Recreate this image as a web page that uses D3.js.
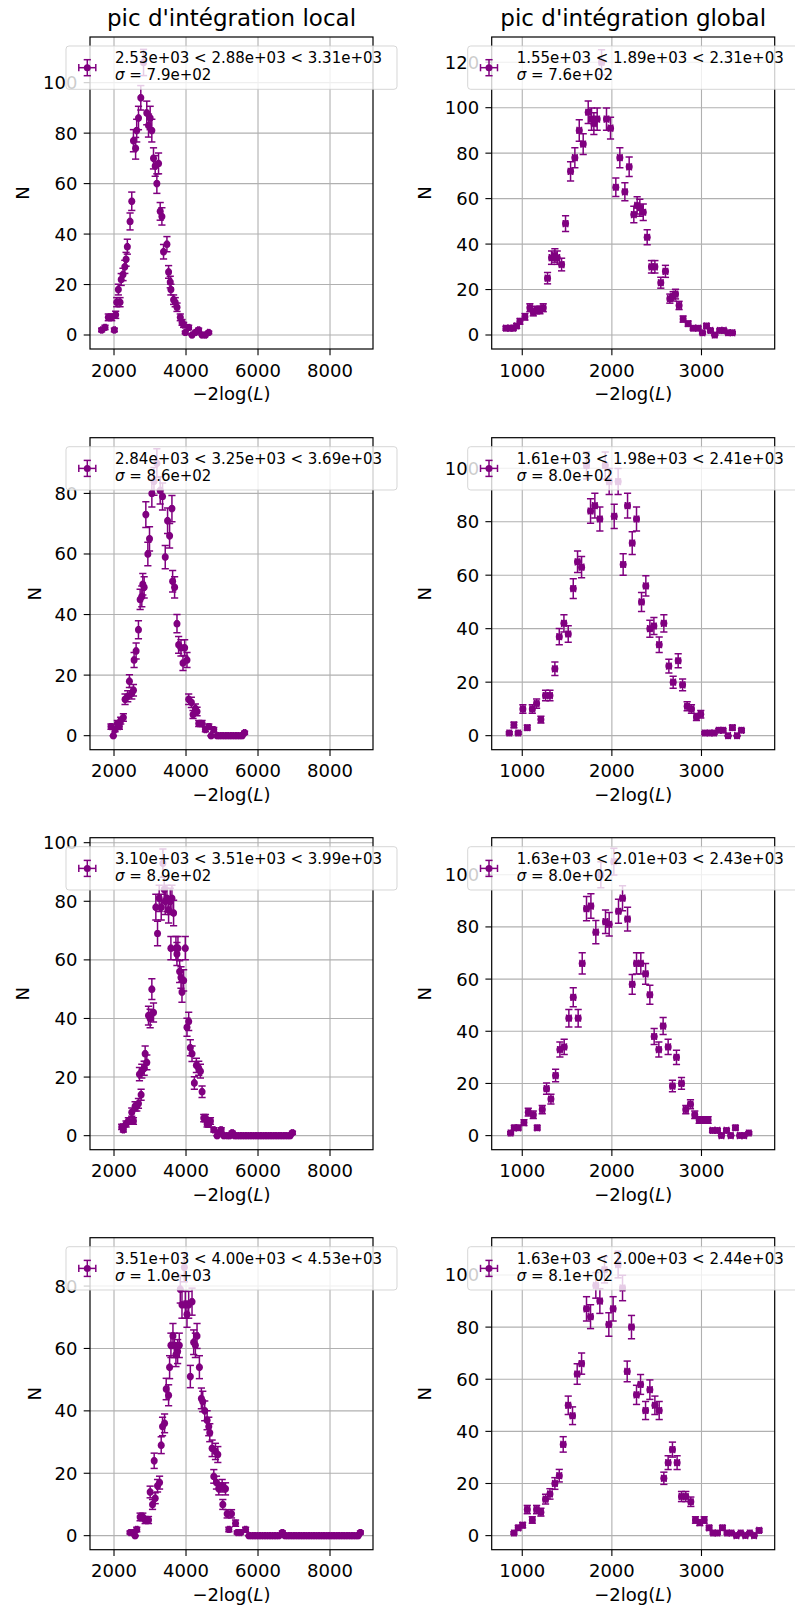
<!DOCTYPE html>
<html><head><meta charset="utf-8">
<script src="https://cdn.jsdelivr.net/npm/d3@7"></script>
<style>body{margin:0;background:#fff} svg{display:block;font-family:"DejaVu Sans",sans-serif}</style>
</head><body><svg id="c" width="795" height="1610"></svg>
<script>
// ---------------- DATA ----------------
const colTitles = ["pic d'intégration local", "pic d'intégration global"];
const xTicksLocal = [2000, 4000, 6000, 8000];
const xTicksGlobal = [1000, 2000, 3000];
const xLimLocal = [1333, 9194];
const xLimGlobal = [659, 3817];
const xErrLocal = 25;
const xErrGlobal = 25;

// [ -2log(L), N ]
const local1 = [[1656,2],[1750,3],[1842,7],[1935,7],[2009,2],[2046,8],[2075,13],[2120,18],[2167,13],[2200,22],[2250,24],[2300,27],[2335,30],[2370,35],[2446,45],[2493,53],[2540,77],[2600,74],[2630,81],[2680,86],[2744,94],[2820,108],[2910,88],[2958,83],[3004,86],[3050,81],[3097,70],[3144,67],[3190,60],[3237,68],[3283,49],[3330,47],[3376,33],[3470,36],[3516,25],[3562,21],[3580,18],[3655,14],[3700,13],[3750,11],[3841,7],[3890,5],[3934,4],[3980,1],[4073,3],[4166,0],[4260,1],[4350,2],[4446,0],[4540,0],[4630,1]];
const local2 = [[1916,3],[1981,0],[2028,2],[2093,4],[2149,3],[2186,5],[2260,6],[2307,12],[2381,13],[2428,18],[2493,14],[2540,15],[2558,25],[2614,28],[2679,35],[2726,45],[2772,46],[2800,50],[2837,49],[2884,73],[2940,60],[2986,65],[3051,80],[3110,84],[3190,90],[3283,81],[3348,79],[3423,59],[3488,71],[3544,66],[3609,75],[3628,51],[3683,49],[3749,37],[3795,30],[3860,29],[3916,24],[3962,29],[4027,25],[4074,12],[4148,11],[4195,7],[4260,9],[4306,8],[4353,4],[4446,4],[4539,2],[4632,3],[4697,0],[4770,2],[4864,0],[4930,0],[5000,0],[5070,0],[5140,0],[5210,0],[5280,0],[5350,0],[5420,0],[5490,0],[5560,0],[5627,1]];
const local3 = [[2214,3],[2260,2],[2335,4],[2400,5],[2493,8],[2540,5],[2586,10],[2632,10],[2679,11],[2707,21],[2753,14],[2772,22],[2837,23],[2865,28],[2911,25],[2958,41],[3004,40],[3051,50],[3097,42],[3162,78],[3209,69],[3255,81],[3311,78],[3358,93],[3395,84],[3423,80],[3470,81],[3516,77],[3562,80],[3609,81],[3655,76],[3580,64],[3720,64],[3748,62],[3776,64],[3823,56],[3860,54],[3888,49],[3934,53],[3980,64],[4027,37],[4074,39],[4120,30],[4167,28],[4232,18],[4288,24],[4353,23],[4400,22],[4446,15],[4493,6],[4540,6],[4586,4],[4632,4],[4679,5],[4772,2],[4865,0],[4911,1],[4976,2],[5050,0],[5143,0],[5213,0],[5283,1],[5350,0],[5420,0],[5490,0],[5560,0],[5630,0],[5700,0],[5770,0],[5840,0],[5910,0],[5980,0],[6050,0],[6120,0],[6190,0],[6260,0],[6330,0],[6400,0],[6470,0],[6540,0],[6610,0],[6680,0],[6750,0],[6820,0],[6890,0],[6957,1]];
const local4 = [[2446,1],[2540,1],[2586,0],[2632,2],[2725,6],[2800,6],[2865,5],[2958,5],[3004,14],[3070,10],[3116,24],[3144,12],[3209,16],[3265,17],[3311,29],[3348,35],[3404,36],[3450,47],[3516,45],[3544,54],[3581,61],[3637,64],[3674,61],[3720,58],[3767,59],[3813,61],[3841,79],[3888,74],[3953,86],[3980,74],[4027,71],[4074,74],[4120,51],[4167,75],[4213,62],[4260,61],[4306,64],[4372,54],[4427,44],[4465,43],[4520,40],[4586,37],[4632,35],[4660,33],[4725,28],[4772,19],[4818,27],[4846,17],[4883,26],[4911,15],[5004,16],[5022,10],[5097,15],[5143,7],[5190,2],[5264,7],[5376,4],[5422,1],[5515,1],[5655,2],[5748,0],[5820,0],[5887,0],[5950,0],[6020,0],[6090,0],[6160,0],[6230,0],[6300,0],[6370,0],[6440,0],[6510,0],[6580,0],[6677,1],[6750,0],[6820,0],[6890,0],[6960,0],[7030,0],[7100,0],[7170,0],[7240,0],[7310,0],[7380,0],[7450,0],[7520,0],[7590,0],[7660,0],[7730,0],[7800,0],[7870,0],[7940,0],[8010,0],[8080,0],[8150,0],[8220,0],[8290,0],[8360,0],[8430,0],[8500,0],[8570,0],[8640,0],[8710,0],[8780,0],[8845,1]];

const global1 = [[818,3],[862,3],[900,3],[937,4],[974,6],[1030,8],[1085,12],[1123,10],[1160,11],[1197,11],[1234,12],[1282,25],[1327,34],[1364,35],[1390,34],[1439,31],[1483,49],[1539,72],[1587,78],[1636,90],[1680,84],[1736,98],[1773,95],[1799,93],[1836,95],[1885,120],[1940,95],[1985,91],[2044,65],[2089,78],[2145,63],[2193,74],[2245,53],[2282,57],[2312,56],[2350,54],[2394,43],[2442,30],[2480,30],[2546,23],[2598,28],[2647,16],[2684,17],[2710,18],[2750,13],[2795,7],[2851,5],[2907,3],[2963,3],[3011,1],[3056,4],[3100,2],[3148,0],[3204,2],[3249,2],[3297,1],[3345,1]];
const global2 = [[855,1],[907,4],[955,1],[1007,10],[1056,3],[1112,10],[1160,12],[1208,6],[1260,15],[1309,15],[1364,25],[1413,37],[1465,42],[1513,38],[1569,55],[1617,65],[1662,63],[1717,101],[1762,84],[1810,86],[1866,81],[1926,101],[1970,95],[2026,82],[2070,95],[2126,64],[2175,86],[2227,72],[2275,81],[2331,50],[2379,56],[2424,40],[2469,41],[2528,34],[2580,42],[2636,26],[2684,20],[2740,28],[2789,19],[2840,11],[2888,10],[2944,7],[2992,8],[3037,1],[3093,1],[3141,1],[3193,2],[3241,2],[3297,0],[3345,3],[3397,0],[3446,2]];
const global3 = [[870,1],[911,3],[955,3],[1019,5],[1067,9],[1123,8],[1167,3],[1223,10],[1271,18],[1320,14],[1372,23],[1420,33],[1468,34],[1520,45],[1569,53],[1624,45],[1669,66],[1717,87],[1766,88],[1821,78],[1877,100],[1929,82],[1970,81],[2022,105],[2074,86],[2119,91],[2175,83],[2227,58],[2275,66],[2323,66],[2376,62],[2424,54],[2472,38],[2524,33],[2572,42],[2628,34],[2676,19],[2721,30],[2777,20],[2825,10],[2877,12],[2925,8],[2974,6],[3026,6],[3074,6],[3123,2],[3178,2],[3223,0],[3279,2],[3327,0],[3379,3],[3427,0],[3476,0],[3528,1]];
const global4 = [[907,1],[955,3],[1004,4],[1056,10],[1112,6],[1160,10],[1208,9],[1260,14],[1309,16],[1364,20],[1413,23],[1457,35],[1513,50],[1561,46],[1613,62],[1662,66],[1717,87],[1762,84],[1821,96],[1866,90],[1918,102],[1966,81],[2014,87],[2070,104],[2119,95],[2171,63],[2219,80],[2275,54],[2320,58],[2376,48],[2424,56],[2480,50],[2528,48],[2580,22],[2628,28],[2676,33],[2728,28],[2777,15],[2825,15],[2881,13],[2933,6],[2981,5],[3030,6],[3085,3],[3130,1],[3178,1],[3234,3],[3286,1],[3334,1],[3390,0],[3438,1],[3490,0],[3539,1],[3587,0],[3643,2]];

const localRanges = ["2.53e+03 < 2.88e+03 < 3.31e+03", "2.84e+03 < 3.25e+03 < 3.69e+03", "3.10e+03 < 3.51e+03 < 3.99e+03", "3.51e+03 < 4.00e+03 < 4.53e+03"];
const globalRanges = ["1.55e+03 < 1.89e+03 < 2.31e+03", "1.61e+03 < 1.98e+03 < 2.41e+03", "1.63e+03 < 2.01e+03 < 2.43e+03", "1.63e+03 < 2.00e+03 < 2.44e+03"];
const localSigmas = ["7.9e+02", "8.6e+02", "8.9e+02", "1.0e+03"];
const globalSigmas = ["7.6e+02", "8.0e+02", "8.0e+02", "8.1e+02"];
const localYLim = [[-5.55, 118.1], [-4.63, 98.4], [-4.79, 101.7], [-4.5, 95.5]];
const globalYLim = [[-6.16, 131.1], [-5.25, 111.4], [-5.4, 114.2], [-5.4, 114.3]];
const yTickStep = 20;

// ---------------- LAYOUT ----------------
const colLeft = [90, 491.7];
const axW = 283;
const rowTop = [37, 437.7, 837.7, 1237.7];
const axH = 312;
const purple = "#800080";
const tickFont = 18;

const svg = d3.select("#c");
const cols = [
  {series: [local1, local2, local3, local4], ranges: localRanges, sigmas: localSigmas, ylim: localYLim, xlim: xLimLocal, xticks: xTicksLocal, xerr: xErrLocal},
  {series: [global1, global2, global3, global4], ranges: globalRanges, sigmas: globalSigmas, ylim: globalYLim, xlim: xLimGlobal, xticks: xTicksGlobal, xerr: xErrGlobal}
];

const defs = svg.append("defs");
let clipId = 0;

cols.forEach((col, ci) => {
  const L = colLeft[ci];
  // title
  svg.append("text").attr("x", L + axW / 2).attr("y", 26).attr("text-anchor", "middle")
    .attr("font-size", 23).attr("fill", "#000").text(colTitles[ci]);

  col.series.forEach((data, ri) => {
    const T = rowTop[ri];
    const x = d3.scaleLinear().domain(col.xlim).range([L, L + axW]);
    const y = d3.scaleLinear().domain(col.ylim[ri]).range([T + axH, T]);
    const g = svg.append("g");
    const yticks = d3.range(0, col.ylim[ri][1], yTickStep);

    // grid
    g.append("g").selectAll("line").data(col.xticks).join("line")
      .attr("x1", d => x(d)).attr("x2", d => x(d)).attr("y1", T).attr("y2", T + axH)
      .attr("stroke", "#b0b0b0").attr("stroke-width", 1.1);
    g.append("g").selectAll("line").data(yticks).join("line")
      .attr("y1", d => y(d)).attr("y2", d => y(d)).attr("x1", L).attr("x2", L + axW)
      .attr("stroke", "#b0b0b0").attr("stroke-width", 1.1);

    // data with clip
    const cid = "clip" + (clipId++);
    defs.append("clipPath").attr("id", cid).append("rect")
      .attr("x", L).attr("y", T).attr("width", axW).attr("height", axH);
    const dg = g.append("g").attr("clip-path", `url(#${cid})`);
    const err = d => Math.sqrt(d[1]) / 2;
    const cap = 3.6;
    const bars = dg.append("g").attr("stroke", purple).attr("stroke-width", 1.5);
    data.forEach(d => {
      const cx = x(d[0]), cy = y(d[1]);
      const yt = y(d[1] + err(d)), yb = y(d[1] - err(d));
      const xl = x(d[0] - col.xerr), xr = x(d[0] + col.xerr);
      bars.append("line").attr("x1", cx).attr("x2", cx).attr("y1", yt).attr("y2", yb);
      bars.append("line").attr("x1", xl).attr("x2", xr).attr("y1", cy).attr("y2", cy);
      bars.append("line").attr("x1", cx - cap).attr("x2", cx + cap).attr("y1", yt).attr("y2", yt);
      bars.append("line").attr("x1", cx - cap).attr("x2", cx + cap).attr("y1", yb).attr("y2", yb);
      bars.append("line").attr("x1", xl).attr("x2", xl).attr("y1", cy - cap).attr("y2", cy + cap);
      bars.append("line").attr("x1", xr).attr("x2", xr).attr("y1", cy - cap).attr("y2", cy + cap);
    });
    dg.append("g").selectAll("circle").data(data).join("circle")
      .attr("cx", d => x(d[0])).attr("cy", d => y(d[1])).attr("r", 3.5).attr("fill", purple);

    // spines
    g.append("rect").attr("x", L).attr("y", T).attr("width", axW).attr("height", axH)
      .attr("fill", "none").attr("stroke", "#000").attr("stroke-width", 1.2);

    // ticks
    const tl = 6.3;
    g.append("g").selectAll("line").data(col.xticks).join("line")
      .attr("x1", d => x(d)).attr("x2", d => x(d)).attr("y1", T + axH).attr("y2", T + axH + tl)
      .attr("stroke", "#000").attr("stroke-width", 1.1);
    g.append("g").selectAll("line").data(yticks).join("line")
      .attr("y1", d => y(d)).attr("y2", d => y(d)).attr("x1", L - tl).attr("x2", L)
      .attr("stroke", "#000").attr("stroke-width", 1.1);
    g.append("g").selectAll("text").data(col.xticks).join("text")
      .attr("x", d => x(d)).attr("y", T + axH + 27.7).attr("text-anchor", "middle")
      .attr("font-size", tickFont).text(d => d);
    const ytl = g.append("g").selectAll("text").data(yticks).join("text")
      .attr("x", L - 12.6).attr("y", d => y(d) + 6.5).attr("text-anchor", "end")
      .attr("font-size", tickFont).text(d => d);
    let maxW = 0;
    ytl.each(function () { maxW = Math.max(maxW, this.getComputedTextLength()); });

    // axis labels
    const xl = g.append("text").attr("x", L + axW / 2).attr("y", T + axH + 51)
      .attr("text-anchor", "middle").attr("font-size", tickFont);
    xl.append("tspan").text("\u22122log(");
    xl.append("tspan").attr("font-style", "italic").text("L");
    xl.append("tspan").text(")");
    const ylx = L - 12.6 - maxW - 13.8;
    g.append("text").attr("transform", `translate(${ylx},${T + axH / 2}) rotate(-90)`)
      .attr("text-anchor", "middle").attr("font-size", tickFont).text("N");

    // legend
    const lw = 331, lh = 43.3;
    const lx = L + axW / 2 - lw / 2, ly = T + 9;
    const lg = svg.append("g");
    lg.append("rect").attr("x", lx).attr("y", ly).attr("width", lw).attr("height", lh)
      .attr("rx", 3).attr("fill", "#fff").attr("fill-opacity", 0.8)
      .attr("stroke", "#cccccc").attr("stroke-opacity", 0.8).attr("stroke-width", 1);
    const hx = lx + 21.3, hy = ly + 21.7;
    const hg = lg.append("g").attr("stroke", purple).attr("stroke-width", 1.5);
    hg.append("line").attr("x1", hx).attr("x2", hx).attr("y1", hy - 8).attr("y2", hy + 8);
    hg.append("line").attr("x1", hx - 8.5).attr("x2", hx + 8.5).attr("y1", hy).attr("y2", hy);
    hg.append("line").attr("x1", hx - 3.6).attr("x2", hx + 3.6).attr("y1", hy - 8).attr("y2", hy - 8);
    hg.append("line").attr("x1", hx - 3.6).attr("x2", hx + 3.6).attr("y1", hy + 8).attr("y2", hy + 8);
    hg.append("line").attr("x1", hx - 8.5).attr("x2", hx - 8.5).attr("y1", hy - 3.6).attr("y2", hy + 3.6);
    hg.append("line").attr("x1", hx + 8.5).attr("x2", hx + 8.5).attr("y1", hy - 3.6).attr("y2", hy + 3.6);
    lg.append("circle").attr("cx", hx).attr("cy", hy).attr("r", 3.5).attr("fill", purple);
    lg.append("text").attr("x", lx + 49).attr("y", ly + 17.3).attr("font-size", 15).text(col.ranges[ri]);
    const st = lg.append("text").attr("x", lx + 49).attr("y", ly + 34).attr("font-size", 15);
    st.append("tspan").attr("font-style", "italic").text("\u03c3");
    st.append("tspan").text(" = " + col.sigmas[ri]);
  });
});
</script></body></html>
